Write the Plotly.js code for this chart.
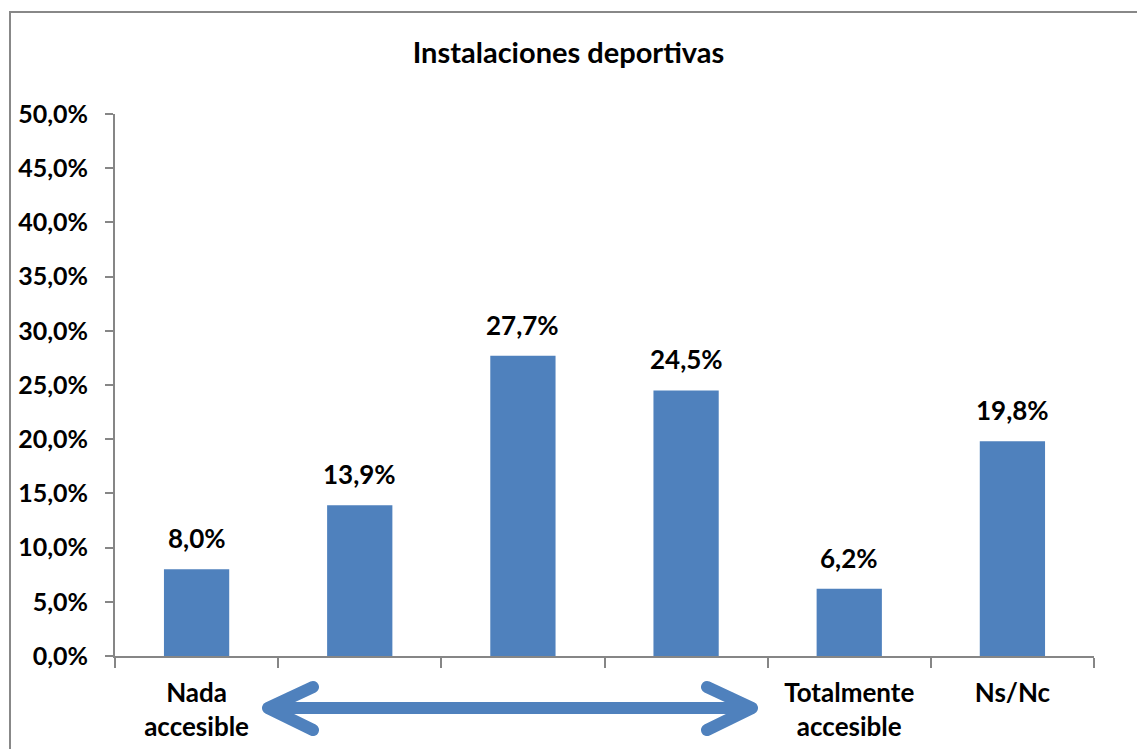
<!DOCTYPE html>
<html>
<head>
<meta charset="utf-8">
<script src="https://cdn.plot.ly/plotly-3.0.1.min.js"></script>
<style>
  html, body { margin: 0; padding: 0; background: #fff; overflow: hidden; }
  #wrap { position: relative; width: 1137px; height: 749px; }
  #chart { position: absolute; left: 0; top: 0; width: 1137px; height: 749px; }
  #frame { position: absolute; left: 9px; top: 11px; width: 1200px; height: 800px; border: 2px solid #888; pointer-events: none; }
  .shapelayer path { stroke-linecap: round; stroke-linejoin: round; }
</style>
</head>
<body>
<div id="wrap">
  <div id="chart"></div>
  <div id="frame"></div>
</div>
<script>
const categories = ['Nada accesible', 'Nivel 2', 'Nivel 3', 'Nivel 4', 'Totalmente accesible', 'Ns/Nc'];
const tickLabels = ['Nada<br>accesible', '', '', '', 'Totalmente<br>accesible', 'Ns/Nc'];
const values = [8.0, 13.9, 27.7, 24.5, 6.2, 19.8];
const yTicks = [0, 5, 10, 15, 20, 25, 30, 35, 40, 45, 50];
const chartTitle = 'Instalaciones deportivas';

const FONT = 'Lato, "Open Sans", sans-serif';
const BLUE = '#4F81BD';
const AXIS = '#868686';

const fmt = v => v.toFixed(1).replace('.', ',') + '%';

const trace = {
  type: 'bar',
  x: categories,
  y: values,
  marker: { color: BLUE },
  hoverinfo: 'none'
};

const annotations = categories.map((c, i) => ({
  x: i, y: values[i], xref: 'x', yref: 'y',
  text: '<b>' + fmt(values[i]) + '</b>',
  showarrow: false, yanchor: 'middle', yshift: 31,
  font: { family: FONT, size: 26, color: '#000' }
}));

// double-headed arrow under the axis (paper coordinates)
const px = p => (p - 115) / 979;
const py = p => (656 - p) / 542;
const arrowPath =
  'M ' + px(313) + ' ' + py(687) + ' L ' + px(268) + ' ' + py(708) + ' L ' + px(313) + ' ' + py(730) +
  ' M ' + px(270) + ' ' + py(708) + ' L ' + px(750) + ' ' + py(708) +
  ' M ' + px(707) + ' ' + py(687) + ' L ' + px(752) + ' ' + py(708) + ' L ' + px(707) + ' ' + py(730);

const layout = {
  width: 1137, height: 749,
  margin: { l: 115, r: 43, t: 114, b: 93 },
  paper_bgcolor: '#fff', plot_bgcolor: '#fff',
  separators: ',.',
  showlegend: false,
  bargap: 0.6,
  title: {
    text: '<b>' + chartTitle + '</b>',
    font: { family: FONT, size: 29, color: '#000' },
    x: 0.5, xanchor: 'center', y: 1 - 53 / 749, yanchor: 'middle', yref: 'container'
  },
  xaxis: {
    type: 'category',
    tickmode: 'array', tickvals: categories, ticktext: tickLabels,
    tickson: 'boundaries',
    ticks: 'outside', ticklen: 10, tickwidth: 2, tickcolor: AXIS,
    showline: true, linecolor: AXIS, linewidth: 2,
    showgrid: false, zeroline: false,
    ticklabelstandoff: 13,
    tickfont: { family: FONT, size: 26, color: '#000', weight: 'bold' },
    fixedrange: true
  },
  yaxis: {
    range: [0, 50],
    tickmode: 'array', tickvals: yTicks,
    ticktext: yTicks.map(fmt),
    ticks: 'outside', ticklen: 8, tickwidth: 2, tickcolor: AXIS,
    showline: true, linecolor: AXIS, linewidth: 2,
    showgrid: false, zeroline: false,
    ticklabelstandoff: 12,
    tickfont: { family: FONT, size: 25, color: '#000', weight: 'bold' },
    fixedrange: true
  },
  annotations: annotations,
  shapes: [{
    type: 'path', xref: 'paper', yref: 'paper', path: arrowPath,
    line: { color: BLUE, width: 12 }, layer: 'above'
  }]
};

Plotly.newPlot('chart', [trace], layout, { displayModeBar: false, staticPlot: true });
</script>
</body>
</html>
